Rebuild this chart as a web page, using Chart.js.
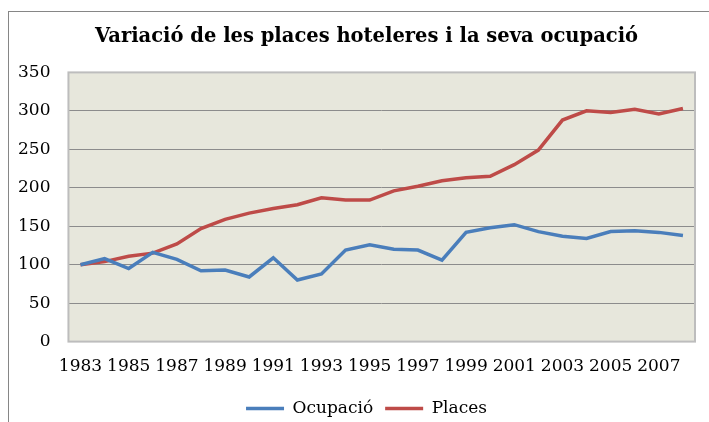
<!DOCTYPE html>
<html>
<head>
<meta charset="utf-8">
<script src="https://cdn.jsdelivr.net/npm/chart.js@4/dist/chart.umd.min.js"></script>
<style>
  html, body { margin: 0; padding: 0; background: #fff; overflow: hidden; }
  #frame { position: absolute; left: 8px; top: 11px; width: 900px; height: 600px; border: 1px solid #868686; }
  #wrap { position: absolute; left: 0; top: 0; width: 709px; height: 422px; }
</style>
</head>
<body>
<div id="frame"></div>
<div id="wrap"><canvas id="hotelChart" width="709" height="422"></canvas></div>
<script>
// === DADES ===
const years = ['1983', '1984', '1985', '1986', '1987', '1988', '1989', '1990', '1991', '1992', '1993', '1994', '1995',
    '1996', '1997', '1998', '1999', '2000', '2001', '2002', '2003', '2004', '2005', '2006', '2007', '2008'];
const ocupacio = [100, 108, 95, 116, 107, 92, 93, 84, 109, 80, 88, 119, 126,
    120, 119, 106, 142, 148, 152, 143, 137, 134, 143, 144, 142, 138];
const places = [100, 104, 111, 115, 127, 147, 159, 167, 173, 178, 187, 184, 184,
    196, 202, 209, 213, 215, 230, 249, 288, 300, 298, 302, 296, 303];
const yMin = 0, yMax = 350, yStep = 50;

const serif = '"DejaVu Serif", "Liberation Serif", serif';

// plot area background + border
const plotBg = {
    id: 'plotBg',
    beforeDraw(chart) {
        const { ctx, chartArea: a } = chart;
        ctx.save();
        ctx.fillStyle = '#e7e7dc';
        ctx.fillRect(a.left, a.top, a.width, a.height);
        ctx.restore();
    },
    afterDatasetsDraw(chart) {
        const { ctx, chartArea: a } = chart;
        ctx.save();
        ctx.strokeStyle = '#bdbdbd';
        ctx.lineWidth = 2;
        ctx.strokeRect(a.left, a.top, a.width, a.height);
        ctx.restore();
    }
};

// title and legend sit right of the canvas centre, like Excel does it
const shiftBlocks = {
    id: 'shiftBlocks',
    afterLayout(chart) {
        const t = chart.titleBlock, l = chart.legend;
        if (t) { t.left += 19; t.right += 19; }
        if (l) { l.left += 19; l.right += 19; l.top += 5; l.bottom += 5; }
    }
};

const ctx = document.getElementById('hotelChart');
new Chart(ctx, {
    type: 'line',
    data: {
        labels: years,
        datasets: [
            { label: 'Ocupació', data: ocupacio, borderColor: '#4a7ebb', backgroundColor: '#4a7ebb', borderWidth: 3.5, pointRadius: 0, tension: 0 },
            { label: 'Places', data: places, borderColor: '#be4b48', backgroundColor: '#be4b48', borderWidth: 3.5, pointRadius: 0, tension: 0 }
        ]
    },
    options: {
        responsive: false,
        animation: false,
        layout: { padding: { left: 0, right: 14, top: 15, bottom: 0 } },
        plugins: {
            title: {
                display: true,
                text: 'Variació de les places hoteleres i la seva ocupació',
                color: '#000',
                font: { family: serif, size: 19.5, weight: 'bold' },
                padding: { top: 10, bottom: 24 }
            },
            legend: {
                position: 'bottom',
                labels: {
                    color: '#000',
                    font: { family: serif, size: 17 },
                    usePointStyle: true,
                    pointStyle: 'line',
                    pointStyleWidth: 38,
                    padding: 12
                }
            },
            tooltip: { enabled: false }
        },
        scales: {
            x: {
                offset: true,
                grid: { display: false, drawTicks: false },
                border: { display: false },
                ticks: {
                    color: '#000',
                    font: { family: serif, size: 17 },
                    autoSkip: false,
                    maxRotation: 0,
                    padding: 15,
                    callback: (v, i) => (i % 2 === 0 ? years[i] : '')
                },
                afterFit: s => { s.height -= 9; }
            },
            y: {
                min: yMin,
                max: yMax,
                grid: {
                    drawTicks: false,
                    color: c => (c.tick.value === yMin || c.tick.value === yMax ? 'rgba(0,0,0,0)' : '#8c8c8c'),
                    lineWidth: 1
                },
                border: { display: false },
                ticks: { stepSize: yStep, color: '#000', font: { family: serif, size: 17 }, padding: 18 }
            }
        }
    },
    plugins: [plotBg, shiftBlocks]
});
</script>
</body>
</html>
